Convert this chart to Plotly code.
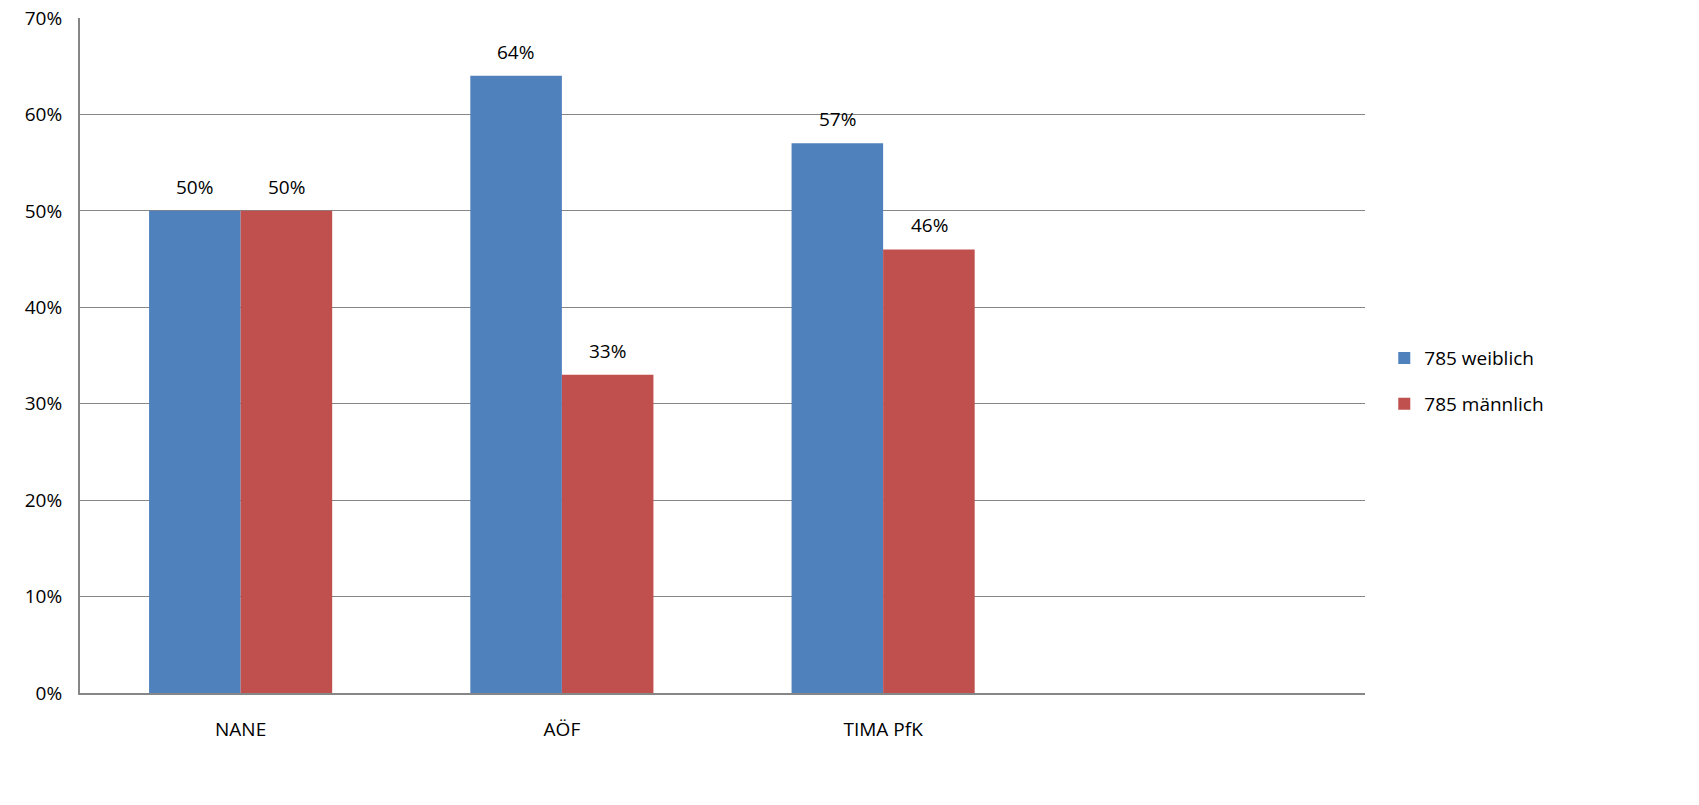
import plotly.graph_objects as go

categories = ["NANE", "AÖF", "TIMA PfK", " "]
weiblich = [50, 64, 57, None]
maennlich = [50, 33, 46, None]
series_names = ["785 weiblich", "785 männlich"]
colors = ["#4F81BD", "#C0504D"]
y_ticks = [0, 10, 20, 30, 40, 50, 60, 70]
y_tick_labels = ["0%", "10%", "20%", "30%", "40%", "50%", "60%", "70%"]

FONT = "Open Sans, Liberation Sans, sans-serif"

fig = go.Figure()
for name, vals, col in zip(series_names, [weiblich, maennlich], colors):
    fig.add_trace(go.Bar(x=categories, y=vals, name=name, legendgroup=name,
                         marker=dict(color=col, line=dict(width=0))))

annotations = []
for vals, shift in [(weiblich, -46), (maennlich, 46)]:
    for c, v in zip(categories, vals):
        if v is None:
            continue
        annotations.append(dict(x=c, y=v, xref="x", yref="y", text=f"{v}%",
                                showarrow=False, xshift=shift, yshift=24,
                                font=dict(size=19, color="#000000", family=FONT)))

fig.update_layout(
    width=1699, height=805,
    margin=dict(l=80, r=334, t=18, b=112, autoexpand=False),
    paper_bgcolor="white", plot_bgcolor="white",
    barmode="group", bargap=0.43, bargroupgap=0,
    font=dict(family=FONT, size=19, color="#000000"),
    annotations=annotations,
    legend=dict(x=1.015, y=0.462, xanchor="left", yanchor="middle",
                font=dict(size=19, family=FONT), itemwidth=30,
                traceorder="grouped", tracegroupgap=18,
                bgcolor="rgba(0,0,0,0)"),
    xaxis=dict(showline=True, linecolor="#868686", linewidth=2,
               showgrid=False, ticks="outside", ticklen=18, tickcolor="rgba(0,0,0,0)",
               tickfont=dict(size=19), automargin=False),
    yaxis=dict(range=[0, 70], tickvals=y_ticks, ticktext=y_tick_labels,
               showline=True, linecolor="#868686", linewidth=2,
               showgrid=True, gridcolor="#868686", gridwidth=1.3,
               ticks="outside", ticklen=12, tickcolor="rgba(0,0,0,0)",
               tickfont=dict(size=19), zeroline=False, automargin=False),
)

fig.write_html("out.html", config={"displayModeBar": False},
               post_script="document.body.style.margin='0';")
